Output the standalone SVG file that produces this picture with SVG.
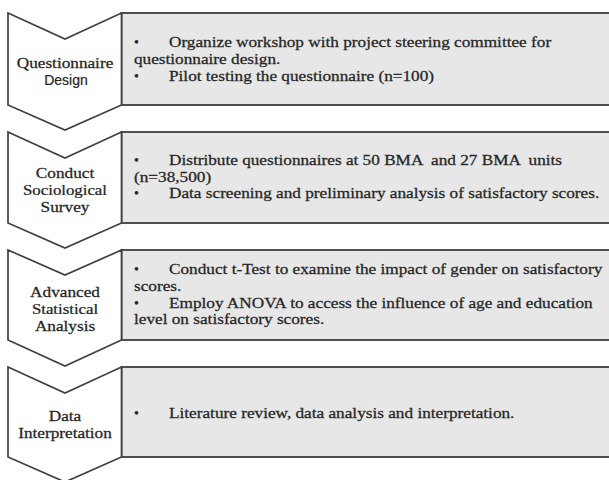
<svg xmlns="http://www.w3.org/2000/svg" width="609" height="480" viewBox="0 0 609 480">
<style>
.chev{fill:#ffffff;stroke:#404040;stroke-width:1.7;stroke-linejoin:miter}
.box{fill:#e7e7e7;stroke:#484848;stroke-width:1.9}
.t{font-family:"Liberation Serif","Times New Roman",serif;font-size:14px;fill:#262626;stroke:#262626;stroke-width:0.25;white-space:pre}
.lbl{font-family:"Liberation Serif","Times New Roman",serif;font-size:14px;fill:#262626;stroke:#262626;stroke-width:0.25;text-anchor:middle}
.lbls{font-family:"Liberation Sans",Arial,sans-serif;font-size:14px;fill:#262626;stroke:#262626;stroke-width:0.2;text-anchor:middle}
</style>
<rect width="609" height="480" fill="#ffffff"/>
<g id="connectors"/>
<g id="step1">
<rect class="box" x="121.5" y="13" width="492" height="92"/>
<path class="chev" d="M8,13 L65,39 L121.5,13 L121.5,105 L65,130 L8,105 Z"/>
<text class="lbl" transform="translate(65,68) scale(1.23,1)">Questionnaire</text>
<text class="lbls" x="66" y="85">Design</text>
<text class="t" x="134" y="47">•</text>
<text class="t" transform="translate(169,47) scale(1.23,1)">Organize workshop with project steering committee for</text>
<text class="t" transform="translate(134,64) scale(1.23,1)">questionnaire design.</text>
<text class="t" x="134" y="81">•</text>
<text class="t" transform="translate(169,81) scale(1.23,1)">Pilot testing the questionnaire (n=100)</text>
</g>
<g id="step2">
<rect class="box" x="121.5" y="132" width="492" height="91"/>
<path class="chev" d="M8,132 L65,158 L121.5,132 L121.5,223 L65,248 L8,223 Z"/>
<text class="lbl" transform="translate(65,178) scale(1.23,1)">Conduct</text>
<text class="lbl" transform="translate(65,195) scale(1.2,1)">Sociological</text>
<text class="lbl" transform="translate(65,212) scale(1.23,1)">Survey</text>
<text class="t" x="134" y="165">•</text>
<text class="t" xml:space="preserve" transform="translate(169,165) scale(1.23,1)">Distribute questionnaires at 50 BMA  and 27 BMA  units</text>
<text class="t" transform="translate(134,182) scale(1.23,1)">(n=38,500)</text>
<text class="t" x="134" y="198">•</text>
<text class="t" transform="translate(169,198) scale(1.23,1)">Data screening and preliminary analysis of satisfactory scores.</text>
</g>
<g id="step3">
<rect class="box" x="121.5" y="250" width="492" height="90"/>
<path class="chev" d="M8,250 L65,275 L121.5,250 L121.5,340 L65,366 L8,340 Z"/>
<text class="lbl" transform="translate(65,297) scale(1.23,1)">Advanced</text>
<text class="lbl" transform="translate(65,314) scale(1.2,1)">Statistical</text>
<text class="lbl" transform="translate(65,331) scale(1.23,1)">Analysis</text>
<text class="t" x="134" y="274">•</text>
<text class="t" transform="translate(169,274) scale(1.23,1)">Conduct t-Test to examine the impact of gender on satisfactory</text>
<text class="t" transform="translate(134,291) scale(1.23,1)">scores.</text>
<text class="t" x="134" y="308">•</text>
<text class="t" transform="translate(169,308) scale(1.23,1)">Employ ANOVA to access the influence of age and education</text>
<text class="t" transform="translate(134,324) scale(1.23,1)">level on satisfactory scores.</text>
</g>
<g id="step4">
<rect class="box" x="121.5" y="367" width="492" height="90"/>
<path class="chev" d="M8,367 L65,393 L121.5,367 L121.5,457 L65,482 L8,457 Z"/>
<text class="lbl" transform="translate(65,421) scale(1.23,1)">Data</text>
<text class="lbl" transform="translate(65,438) scale(1.23,1)">Interpretation</text>
<text class="t" x="134" y="418">•</text>
<text class="t" transform="translate(169,418) scale(1.23,1)">Literature review, data analysis and interpretation.</text>
</g>
</svg>
